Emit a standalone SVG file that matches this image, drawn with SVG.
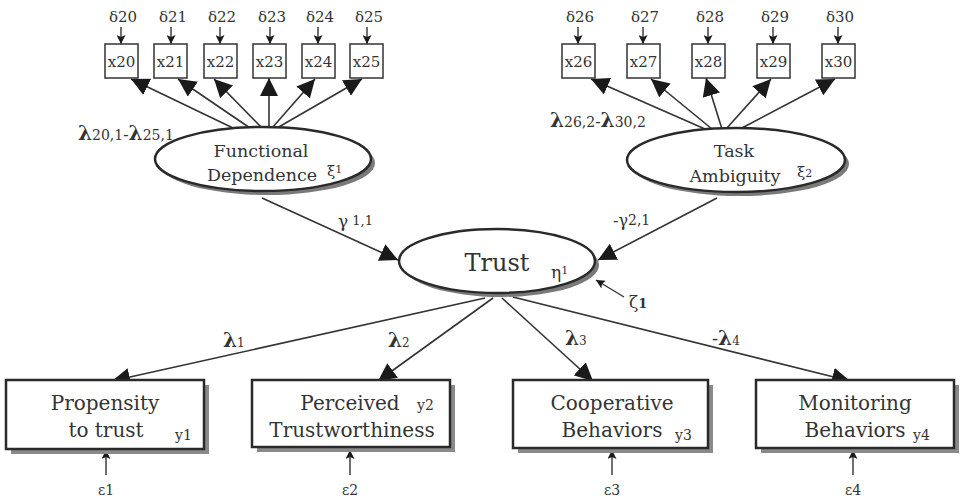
<svg xmlns="http://www.w3.org/2000/svg" width="960" height="499" viewBox="0 0 960 499">
  <style>
    text { font-family: "DejaVu Serif", "Liberation Serif", serif; fill: #333; }
    .ind { fill: #fff; stroke: #333; stroke-width: 1.5; }
    .ind-t { font-size: 15px; text-anchor: middle; }
    .err { font-size: 15px; text-anchor: middle; }
    .eps { font-size: 14px; text-anchor: middle; }
    .lat { fill: #fff; stroke: #2a2a2a; stroke-width: 2.5; }
    .lat-sh { fill: #7a7a7a; }
    .lat-t { font-size: 17.5px; text-anchor: middle; }
    .obs { fill: #fff; stroke: #2a2a2a; stroke-width: 2.5; }
    .obs-sh { fill: #8a8a8a; }
    .obs-t { font-size: 20px; text-anchor: middle; }
    .lam { font-size: 20px; font-weight: bold; }
    .link { stroke: #333; stroke-width: 1.6; fill: none; marker-end: url(#head); }
    .err-link { stroke: #333; stroke-width: 1.4; fill: none; marker-end: url(#small); }
  </style>
  <defs>
    <marker id="head" markerUnits="userSpaceOnUse" markerWidth="19" markerHeight="18" refX="18" refY="9" orient="auto">
      <path d="M0,0 L18,9 L0,18 z" fill="#1a1a1a"/>
    </marker>
    <marker id="small" markerUnits="userSpaceOnUse" markerWidth="10" markerHeight="9" refX="9" refY="4.5" orient="auto">
      <path d="M0,0 L9,4.5 L0,9 L2,4.5 z" fill="#1a1a1a"/>
    </marker>
  </defs>
  <rect width="960" height="499" fill="#fff"/>

  <!-- connectors -->
  <g id="connectors">
    <!-- loadings of Functional Dependence -->
    <line class="link" x1="233" y1="128" x2="131" y2="79"/>
    <line class="link" x1="250" y1="128" x2="178" y2="79"/>
    <line class="link" x1="262" y1="128" x2="214" y2="79"/>
    <line class="link" x1="269" y1="128" x2="269" y2="78"/>
    <line class="link" x1="272" y1="128" x2="315" y2="79"/>
    <line class="link" x1="277" y1="128" x2="362" y2="79"/>
    <!-- loadings of Task Ambiguity -->
    <line class="link" x1="705" y1="129" x2="591" y2="79"/>
    <line class="link" x1="712" y1="129" x2="651" y2="79"/>
    <line class="link" x1="722" y1="129" x2="706" y2="78"/>
    <line class="link" x1="726" y1="129" x2="771" y2="79"/>
    <line class="link" x1="740" y1="129" x2="835" y2="79"/>
    <!-- structural paths -->
    <line class="link" x1="262" y1="198" x2="398" y2="260"/>
    <line class="link" x1="717" y1="198" x2="598" y2="260"/>
    <!-- Trust indicators -->
    <line class="link" x1="485" y1="298" x2="112" y2="381"/>
    <line class="link" x1="493" y1="298" x2="378" y2="381"/>
    <line class="link" x1="502" y1="298" x2="593" y2="381"/>
    <line class="link" x1="513" y1="297" x2="850" y2="381"/>
    <!-- error terms -->
    <line class="err-link" x1="121" y1="27" x2="121" y2="44"/>
    <line class="err-link" x1="171" y1="27" x2="171" y2="44"/>
    <line class="err-link" x1="220" y1="27" x2="220" y2="44"/>
    <line class="err-link" x1="270" y1="27" x2="270" y2="44"/>
    <line class="err-link" x1="318" y1="27" x2="318" y2="44"/>
    <line class="err-link" x1="367" y1="27" x2="367" y2="44"/>
    <line class="err-link" x1="578" y1="27" x2="578" y2="44"/>
    <line class="err-link" x1="643" y1="27" x2="643" y2="44"/>
    <line class="err-link" x1="708" y1="27" x2="708" y2="44"/>
    <line class="err-link" x1="773" y1="27" x2="773" y2="44"/>
    <line class="err-link" x1="838" y1="27" x2="838" y2="44"/>
    <line class="err-link" x1="106" y1="475" x2="106" y2="450"/>
    <line class="err-link" x1="350" y1="475" x2="350" y2="450"/>
    <line class="err-link" x1="612" y1="475" x2="612" y2="450"/>
    <line class="err-link" x1="853" y1="475" x2="853" y2="450"/>
    <line class="err-link" x1="624" y1="297" x2="596" y2="280"/>
  </g>

  <!-- path labels -->
  <g id="labels">
    <text x="78" y="140"><tspan class="lam">λ</tspan><tspan font-size="14">20,1</tspan><tspan font-size="16">-</tspan><tspan class="lam">λ</tspan><tspan font-size="14">25,1</tspan></text>
    <text x="550" y="127"><tspan class="lam">λ</tspan><tspan font-size="14">26,2</tspan><tspan font-size="16">-</tspan><tspan class="lam">λ</tspan><tspan font-size="14">30,2</tspan></text>
    <text x="338" y="227"><tspan font-size="17">γ</tspan><tspan font-size="13" dy="-2"> 1,1</tspan></text>
    <text x="613" y="226"><tspan font-size="16">-γ</tspan><tspan font-size="14" dy="-1">2,1</tspan></text>
    <text x="223" y="347"><tspan class="lam">λ</tspan><tspan font-size="12">1</tspan></text>
    <text x="388" y="347"><tspan class="lam">λ</tspan><tspan font-size="12">2</tspan></text>
    <text x="565" y="345"><tspan class="lam">λ</tspan><tspan font-size="12">3</tspan></text>
    <text x="712" y="345"><tspan font-size="18">-</tspan><tspan class="lam">λ</tspan><tspan font-size="12">4</tspan></text>
    <text x="629" y="308"><tspan font-size="17">ζ</tspan><tspan font-size="13" font-weight="bold">1</tspan></text>
  </g>

  <!-- indicator boxes x20..x25 -->
  <g id="x20"><text class="err" x="123" y="22">δ20</text><rect class="ind" x="105" y="44" width="33" height="34"/><text class="ind-t" x="121.5" y="67">x20</text></g>
  <g id="x21"><text class="err" x="173" y="22">δ21</text><rect class="ind" x="154" y="44" width="33" height="34"/><text class="ind-t" x="170.5" y="67">x21</text></g>
  <g id="x22"><text class="err" x="222" y="22">δ22</text><rect class="ind" x="204" y="44" width="33" height="34"/><text class="ind-t" x="220.5" y="67">x22</text></g>
  <g id="x23"><text class="err" x="272" y="22">δ23</text><rect class="ind" x="253" y="44" width="33" height="34"/><text class="ind-t" x="269.5" y="67">x23</text></g>
  <g id="x24"><text class="err" x="320" y="22">δ24</text><rect class="ind" x="302" y="44" width="33" height="34"/><text class="ind-t" x="318.5" y="67">x24</text></g>
  <g id="x25"><text class="err" x="369" y="22">δ25</text><rect class="ind" x="350" y="44" width="33" height="34"/><text class="ind-t" x="366.5" y="67">x25</text></g>

  <!-- indicator boxes x26..x30 -->
  <g id="x26"><text class="err" x="580" y="22">δ26</text><rect class="ind" x="562" y="44" width="33" height="34"/><text class="ind-t" x="578.5" y="67">x26</text></g>
  <g id="x27"><text class="err" x="645" y="22">δ27</text><rect class="ind" x="627" y="44" width="33" height="34"/><text class="ind-t" x="643.5" y="67">x27</text></g>
  <g id="x28"><text class="err" x="710" y="22">δ28</text><rect class="ind" x="692" y="44" width="33" height="34"/><text class="ind-t" x="708.5" y="67">x28</text></g>
  <g id="x29"><text class="err" x="775" y="22">δ29</text><rect class="ind" x="757" y="44" width="33" height="34"/><text class="ind-t" x="773.5" y="67">x29</text></g>
  <g id="x30"><text class="err" x="840" y="22">δ30</text><rect class="ind" x="822" y="44" width="33" height="34"/><text class="ind-t" x="838.5" y="67">x30</text></g>

  <!-- latent variables -->
  <g id="functional-dependence">
    <ellipse class="lat-sh" cx="267" cy="163" rx="108" ry="32"/>
    <ellipse class="lat" cx="263" cy="159" rx="108" ry="32"/>
    <text class="lat-t" x="261" y="157">Functional</text>
    <text class="lat-t" x="262" y="181">Dependence</text>
    <text x="327" y="176" font-size="15">ξ<tspan font-size="11" dy="-3">1</tspan></text>
  </g>
  <g id="task-ambiguity">
    <ellipse class="lat-sh" cx="740" cy="164" rx="109" ry="32"/>
    <ellipse class="lat" cx="736" cy="160" rx="109" ry="32"/>
    <text class="lat-t" x="734" y="157">Task</text>
    <text class="lat-t" x="735" y="182">Ambiguity</text>
    <text x="797" y="177" font-size="15">ξ<tspan font-size="11">2</tspan></text>
  </g>
  <g id="trust">
    <ellipse class="lat-sh" cx="501" cy="265" rx="98" ry="32"/>
    <ellipse class="lat" cx="497" cy="261" rx="98" ry="32"/>
    <text x="497" y="271" font-size="24" text-anchor="middle">Trust</text>
    <text x="551" y="278" font-size="17">η<tspan font-size="11" dy="-4">1</tspan></text>
  </g>

  <!-- observed outcomes -->
  <g id="y1">
    <rect class="obs-sh" x="11" y="385" width="198" height="69"/>
    <rect class="obs" x="6" y="380" width="198" height="69"/>
    <text class="obs-t" x="105" y="410">Propensity</text>
    <text class="obs-t" x="106" y="437">to trust</text>
    <text x="175" y="440" font-size="14">y1</text>
    <text class="eps" x="106" y="495">ε1</text>
  </g>
  <g id="y2">
    <rect class="obs-sh" x="257" y="385" width="198" height="67"/>
    <rect class="obs" x="252" y="380" width="198" height="67"/>
    <text class="obs-t" x="350" y="410">Perceived</text>
    <text class="obs-t" x="352" y="437">Trustworthiness</text>
    <text x="417" y="410" font-size="14">y2</text>
    <text class="eps" x="350" y="495">ε2</text>
  </g>
  <g id="y3">
    <rect class="obs-sh" x="518" y="385" width="195" height="68"/>
    <rect class="obs" x="513" y="380" width="195" height="68"/>
    <text class="obs-t" x="612" y="410">Cooperative</text>
    <text class="obs-t" x="612" y="437">Behaviors</text>
    <text x="675" y="440" font-size="14">y3</text>
    <text class="eps" x="612" y="495">ε3</text>
  </g>
  <g id="y4">
    <rect class="obs-sh" x="761" y="385" width="198" height="68"/>
    <rect class="obs" x="756" y="380" width="198" height="68"/>
    <text class="obs-t" x="855" y="410">Monitoring</text>
    <text class="obs-t" x="855" y="437">Behaviors</text>
    <text x="913" y="440" font-size="14">y4</text>
    <text class="eps" x="853" y="495">ε4</text>
  </g>
</svg>
